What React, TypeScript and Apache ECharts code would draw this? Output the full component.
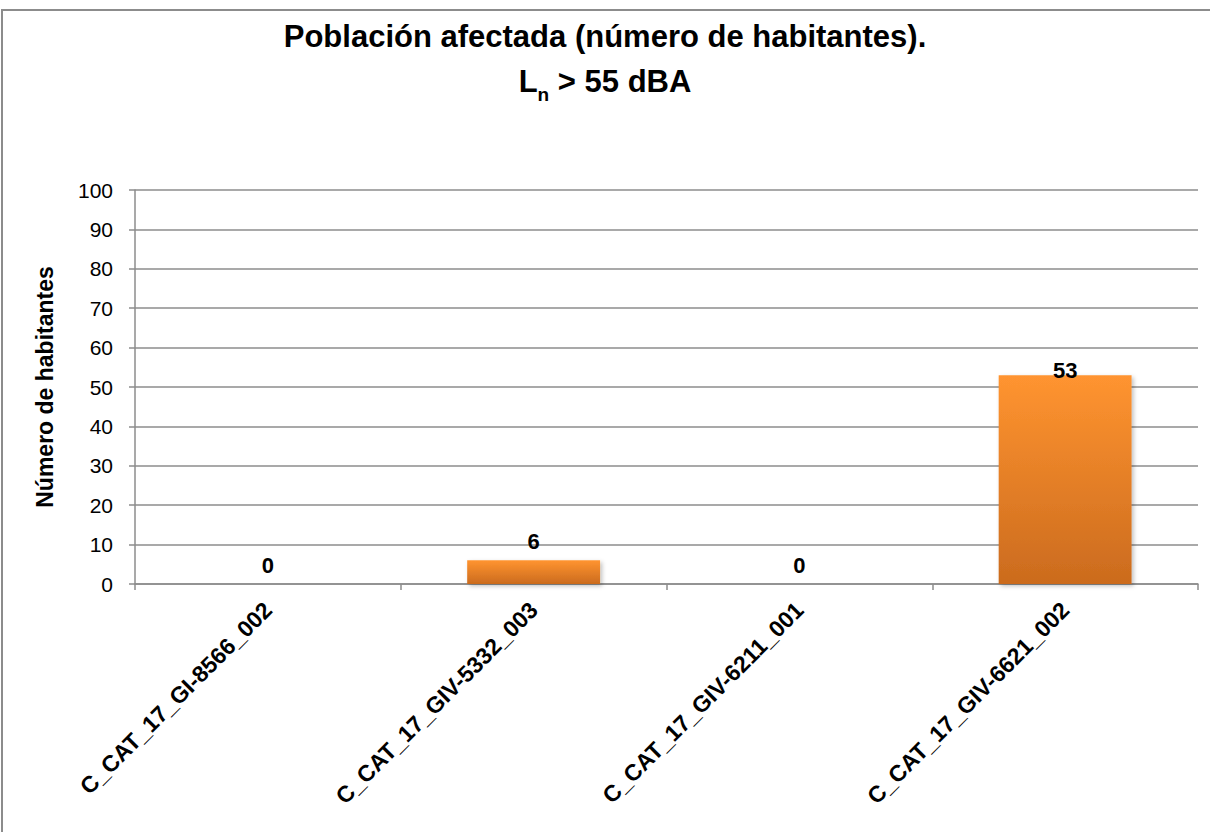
import React, { useEffect, useRef } from "react";
import * as echarts from "echarts";

const categories = [
  "C_CAT_17_GI-8566_002",
  "C_CAT_17_GIV-5332_003",
  "C_CAT_17_GIV-6211_001",
  "C_CAT_17_GIV-6621_002",
];
const values = [0, 6, 0, 53];
const yTicks = { min: 0, max: 100, interval: 10 };
const titleLine1 = "Población afectada (número de habitantes).";
const titleLine2Main = "L";
const titleLine2Sub = "n";
const titleLine2Rest = " > 55 dBA";
const yAxisName = "Número de habitantes";

const FONT = "'Liberation Sans', Arial, Helvetica, sans-serif";
const GRAY = "#8c8c8c";

export default function App() {
  const ref = useRef<HTMLDivElement>(null);

  useEffect(() => {
    if (!ref.current) return;
    const chart = echarts.init(ref.current, undefined, { renderer: "svg" });
    const barColor = new echarts.graphic.LinearGradient(0, 0, 0, 1, [
      { offset: 0, color: "#FF9430" },
      { offset: 1, color: "#CB6B1E" },
    ]);
    chart.setOption({
      animation: false,
      backgroundColor: "#ffffff",
      textStyle: { fontFamily: FONT },
      graphic: [
        {
          type: "rect",
          silent: true,
          shape: { x: 2, y: 10, width: 1400, height: 1000 },
          style: { fill: "none", stroke: GRAY, lineWidth: 2 },
          z: -1,
        },
      ],
      title: {
        left: "center",
        top: 9,
        text:
          titleLine1 +
          "\n{b|" + titleLine2Main + "}{s|" + titleLine2Sub + "}{b|" + titleLine2Rest + "}",
        textStyle: {
          fontFamily: FONT,
          fontSize: 31,
          fontWeight: "bold",
          color: "#000",
          lineHeight: 45,
          rich: {
            b: { fontFamily: FONT, fontSize: 31, fontWeight: "bold", color: "#000", lineHeight: 45 },
            s: {
              fontFamily: FONT,
              fontSize: 19,
              fontWeight: "bold",
              color: "#000",
              lineHeight: 16,
              verticalAlign: "bottom",
            },
          },
        },
      },
      grid: { left: 135, top: 190, right: 12, bottom: 248, containLabel: false },
      xAxis: {
        type: "category",
        data: categories,
        axisLine: { lineStyle: { color: GRAY, width: 1.5 } },
        axisTick: { show: true, length: 6, lineStyle: { color: GRAY, width: 1.5 } },
        axisLabel: {
          rotate: 45,
          margin: 22,
          interval: 0,
          color: "#000",
          fontFamily: FONT,
          fontSize: 23,
          fontWeight: "bold",
        },
      },
      yAxis: {
        type: "value",
        min: yTicks.min,
        max: yTicks.max,
        interval: yTicks.interval,
        name: yAxisName,
        nameLocation: "middle",
        nameRotate: 90,
        nameGap: 79,
        nameTextStyle: { color: "#000", fontFamily: FONT, fontSize: 23, fontWeight: "bold" },
        axisLine: { show: true, lineStyle: { color: GRAY, width: 1.5 } },
        axisTick: { show: true, length: 6, lineStyle: { color: GRAY, width: 1.5 } },
        axisLabel: { margin: 22, color: "#000", fontFamily: FONT, fontSize: 21 },
        splitLine: { show: true, lineStyle: { color: GRAY, width: 1.5 } },
      },
      series: [
        {
          type: "bar",
          barCategoryGap: "50%",
          data: values.map((v, i) => ({
            value: v,
            label: i === values.length - 1 ? { distance: -6 } : undefined,
          })),
          itemStyle: {
            color: barColor,
            shadowBlur: 4,
            shadowOffsetX: 2,
            shadowOffsetY: 2,
            shadowColor: "rgba(0,0,0,0.25)",
          },
          label: {
            show: true,
            position: "top",
            distance: 8,
            color: "#000",
            fontFamily: FONT,
            fontSize: 22,
            fontWeight: "bold",
          },
        },
      ],
    });
    return () => chart.dispose();
  }, []);

  return (
    <div
      ref={ref}
      style={{ position: "fixed", left: 0, top: 0, width: 1210, height: 832, background: "#fff" }}
    />
  );
}
